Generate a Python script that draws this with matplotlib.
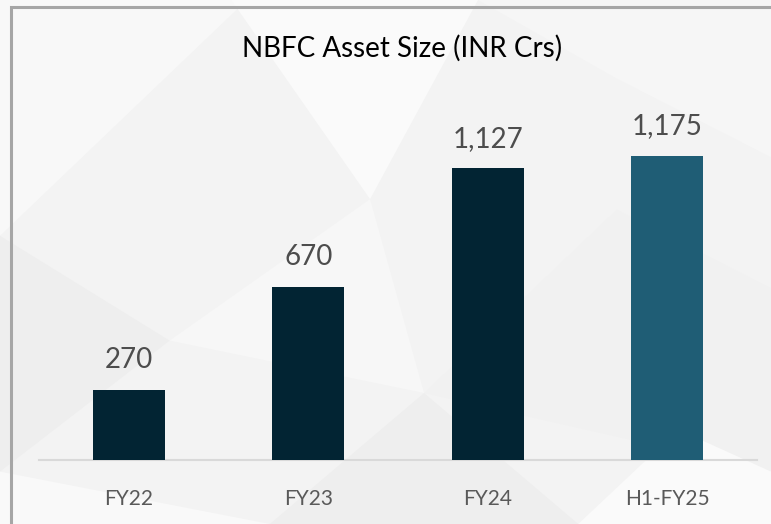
import matplotlib.pyplot as plt
from matplotlib.patches import Polygon, Rectangle

# veriler
kategoriler = ["FY22", "FY23", "FY24", "H1-FY25"]
degerler = [270, 670, 1127, 1175]
etiketler = ["270", "670", "1,127", "1,175"]
renkler = ["#022433", "#022433", "#022433", "#1f5d75"]

plt.rcParams['font.family'] = ['Lato', 'DejaVu Sans']

fig = plt.figure(figsize=(7.71, 5.24), dpi=100)
fig.patch.set_facecolor("#f3f3f3")

# arka plan için ayrı bir eksen: soluk üçgen deseni
arka = fig.add_axes([0, 0, 1, 1], zorder=0)
arka.set_xlim(0, 1)
arka.set_ylim(0, 1)
arka.axis("off")
desen = [
    ([(0.0, 1.0), (0.32, 1.0), (0.0, 0.55)], "#f8f8f8"),
    ([(0.30, 1.0), (0.62, 1.0), (0.48, 0.62)], "#fafafa"),
    ([(0.62, 1.0), (1.0, 1.0), (1.0, 0.70), (0.80, 0.85)], "#f6f6f6"),
    ([(0.0, 0.55), (0.22, 0.35), (0.0, 0.10)], "#eeeeee"),
    ([(0.22, 0.35), (0.48, 0.62), (0.55, 0.25)], "#f7f7f7"),
    ([(0.55, 0.25), (0.80, 0.60), (1.0, 0.45), (1.0, 0.10)], "#f1f1f1"),
    ([(0.0, 0.10), (0.35, 0.0), (0.0, 0.0)], "#f9f9f9"),
    ([(0.35, 0.0), (0.75, 0.0), (0.55, 0.25)], "#eeeeee"),
    ([(0.75, 0.0), (1.0, 0.0), (1.0, 0.10), (0.88, 0.18)], "#fafafa"),
]
for noktalar, renk in desen:
    arka.add_patch(Polygon(noktalar, closed=True, facecolor=renk, edgecolor="none"))

# gri çerçeve (sağa ve aşağı taşıyor)
arka.add_patch(Rectangle((11 / 771, -0.05), 1.1, 1.05 - 6.5 / 524, fill=False,
                         edgecolor="#a6a6a6", linewidth=2.2))

ax = fig.add_axes([39 / 771, 64 / 524, 718 / 771, 380 / 524], zorder=1)
ax.set_facecolor("none")

x = range(len(kategoriler))
cubuklar = ax.bar(x, degerler, width=0.4, color=renkler, zorder=3)

# değer etiketleri
for cubuk, etiket in zip(cubuklar, etiketler):
    ax.annotate(etiket, (cubuk.get_x() + cubuk.get_width() / 2, cubuk.get_height()),
                xytext=(0, 12), textcoords="offset points", ha="center", va="bottom",
                fontsize=20, color="#4d4d4d")

ax.set_xlim(-0.5, 3.5)
ax.set_ylim(0, 1469)
ax.set_xticks(list(x))
ax.set_xticklabels(kategoriler, fontsize=15, color="#595959")
ax.tick_params(axis="x", length=0, pad=21)
ax.set_yticks([])
for kenar in ["top", "right", "left"]:
    ax.spines[kenar].set_visible(False)
ax.spines["bottom"].set_color("#d9d9d9")
ax.spines["bottom"].set_linewidth(1.5)

fig.text(402 / 771, 1 - 48 / 524, "NBFC Asset Size (INR Crs)", ha="center", va="center",
         fontsize=20, color="#000000")

fig.savefig("out.png", dpi=100, facecolor=fig.get_facecolor())
